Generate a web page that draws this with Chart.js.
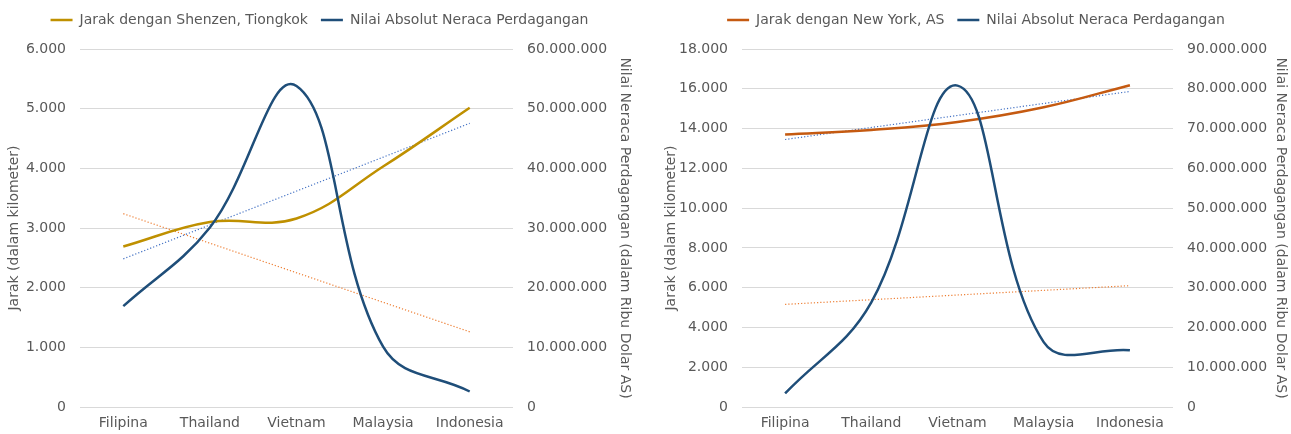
<!DOCTYPE html>
<html>
<head>
<meta charset="utf-8">
<script src="https://cdn.jsdelivr.net/npm/chart.js@4.4.1/dist/chart.umd.min.js"></script>
<style>
  html, body { margin: 0; padding: 0; background: #ffffff; }
  #wrap { display: flex; width: 1291px; height: 434px; }
  .box { position: relative; height: 434px; }
  #box-left { width: 645px; }
  #box-right { width: 646px; }
</style>
</head>
<body>
<div id="wrap">
  <div class="box" id="box-left"><canvas id="shenzen-chart"></canvas></div>
  <div class="box" id="box-right"><canvas id="newyork-chart"></canvas></div>
</div>
<script>
var categories = ['Filipina', 'Thailand', 'Vietnam', 'Malaysia', 'Indonesia'];

// left chart
var shenzenDistance = [2690, 3100, 3160, 4030, 5015];
var tradeBalanceA = [16900000, 30100000, 53800000, 10100000, 2600000];
// trendline ends as drawn (first and last category)
var shenzenTrend = [2483, null, null, null, 4755];
var tradeTrendA = [32400000, null, null, null, 12600000];
var distanceTicksA = [0, 1000, 2000, 3000, 4000, 5000, 6000];
var tradeTicksA = [0, 10000000, 20000000, 30000000, 40000000, 50000000, 60000000];

// right chart
var newYorkDistance = [13700, 13930, 14330, 15070, 16180];
var tradeBalanceB = [3400000, 26300000, 80800000, 16300000, 14250000];
var newYorkTrend = [13450, null, null, null, 15865];
var tradeTrendB = [25800000, null, null, null, 30500000];
var distanceTicksB = [0, 2000, 4000, 6000, 8000, 10000, 12000, 14000, 16000, 18000];
var tradeTicksB = [0, 10000000, 20000000, 30000000, 40000000, 50000000, 60000000, 70000000, 80000000, 90000000];

var FONT = "'DejaVu Sans', sans-serif";
var SIZE = 14;
var TEXT = '#595959';
var GRID = '#d9d9d9';

function formatId(value) {
    return String(Math.round(value)).replace(/\B(?=(\d{3})+(?!\d))/g, '.');
}

function makeChart(canvas, cfg) {
    return new Chart(canvas, {
        type: 'line',
        data: {
            labels: categories,
            datasets: [
                {
                    label: cfg.distanceLabel,
                    data: cfg.distance,
                    yAxisID: 'y',
                    borderColor: cfg.distanceColor,
                    backgroundColor: cfg.distanceColor,
                    borderWidth: 2.5,
                    tension: 0.4,
                    pointRadius: 0,
                    order: 2
                },
                {
                    label: 'Nilai Absolut Neraca Perdagangan',
                    data: cfg.trade,
                    yAxisID: 'y1',
                    borderColor: '#1F4E79',
                    backgroundColor: '#1F4E79',
                    borderWidth: 2.5,
                    tension: 0.4,
                    pointRadius: 0,
                    order: 1
                },
                {
                    label: 'trend-distance',
                    data: cfg.distanceTrend,
                    yAxisID: 'y',
                    borderColor: '#4472C4',
                    borderWidth: 1.2,
                    borderDash: [1.2, 2],
                    spanGaps: true,
                    pointRadius: 0,
                    order: 3
                },
                {
                    label: 'trend-trade',
                    data: cfg.tradeTrend,
                    yAxisID: 'y1',
                    borderColor: '#ED7D31',
                    borderWidth: 1.2,
                    borderDash: [1.2, 2],
                    spanGaps: true,
                    pointRadius: 0,
                    order: 3
                }
            ]
        },
        options: {
            responsive: true,
            maintainAspectRatio: false,
            animation: false,
            layout: { padding: cfg.padding },
            plugins: {
                tooltip: { enabled: false },
                legend: {
                    position: 'top',
                    labels: {
                        color: TEXT,
                        font: { family: FONT, size: SIZE },
                        usePointStyle: true,
                        pointStyle: 'line',
                        pointStyleWidth: 22,
                        padding: 13,
                        sort: function (a, b) { return a.datasetIndex - b.datasetIndex; },
                        filter: function (item) {
                            return item.text.indexOf('trend') !== 0;
                        }
                    }
                },
                // empty spacer between legend and plot
                subtitle: {
                    display: true,
                    text: '',
                    position: 'top',
                    weight: 500,
                    font: { size: 10 },
                    padding: 0
                }
            },
            scales: {
                x: {
                    offset: true,
                    grid: { display: false, drawTicks: false },
                    border: { display: false },
                    ticks: { color: TEXT, font: { family: FONT, size: SIZE }, padding: 8 },
                    afterFit: function (scale) { scale.height = 27; }
                },
                y: {
                    position: 'left',
                    min: 0,
                    max: cfg.distanceTicks[cfg.distanceTicks.length - 1],
                    afterBuildTicks: function (scale) {
                        scale.ticks = cfg.distanceTicks.map(v => ({ value: v }));
                    },
                    grid: { color: GRID, lineWidth: 1, drawTicks: false },
                    border: { display: false },
                    ticks: {
                        color: TEXT,
                        font: { family: FONT, size: SIZE },
                        padding: 14,
                        callback: function (value) { return formatId(value); }
                    },
                    title: {
                        display: true,
                        text: 'Jarak (dalam kilometer)',
                        color: TEXT,
                        font: { family: FONT, size: SIZE },
                        padding: { top: 0, bottom: 0 }
                    },
                    afterFit: function (scale) { scale.width = cfg.leftWidth; }
                },
                y1: {
                    position: 'right',
                    min: 0,
                    max: cfg.tradeTicks[cfg.tradeTicks.length - 1],
                    afterBuildTicks: function (scale) {
                        scale.ticks = cfg.tradeTicks.map(v => ({ value: v }));
                    },
                    grid: { display: false, drawTicks: false },
                    border: { display: false },
                    ticks: {
                        color: TEXT,
                        font: { family: FONT, size: SIZE },
                        padding: 14,
                        callback: function (value) { return formatId(value); }
                    },
                    title: {
                        display: true,
                        text: 'Nilai Neraca Perdagangan (dalam Ribu Dolar AS)',
                        color: TEXT,
                        font: { family: FONT, size: SIZE },
                        padding: { top: 0, bottom: 0 }
                    },
                    afterFit: function (scale) { scale.width = cfg.rightWidth; }
                }
            }
        }
    });
}

document.addEventListener("DOMContentLoaded", function () {

    makeChart(document.getElementById('shenzen-chart'), {
        distanceLabel: 'Jarak dengan Shenzen, Tiongkok',
        distanceColor: '#BF9000',
        distance: shenzenDistance,
        trade: tradeBalanceA,
        distanceTrend: shenzenTrend,
        tradeTrend: tradeTrendA,
        distanceTicks: distanceTicksA,
        tradeTicks: tradeTicksA,
        padding: { left: 6, right: 12, top: 0, bottom: 0 },
        leftWidth: 74,
        rightWidth: 120
    });

    makeChart(document.getElementById('newyork-chart'), {
        distanceLabel: 'Jarak dengan New York, AS',
        distanceColor: '#C55A11',
        distance: newYorkDistance,
        trade: tradeBalanceB,
        distanceTrend: newYorkTrend,
        tradeTrend: tradeTrendB,
        distanceTicks: distanceTicksB,
        tradeTicks: tradeTicksB,
        padding: { left: 18, right: 2, top: 0, bottom: 0 },
        leftWidth: 79,
        rightWidth: 116
    });

});
</script>
</body>
</html>
